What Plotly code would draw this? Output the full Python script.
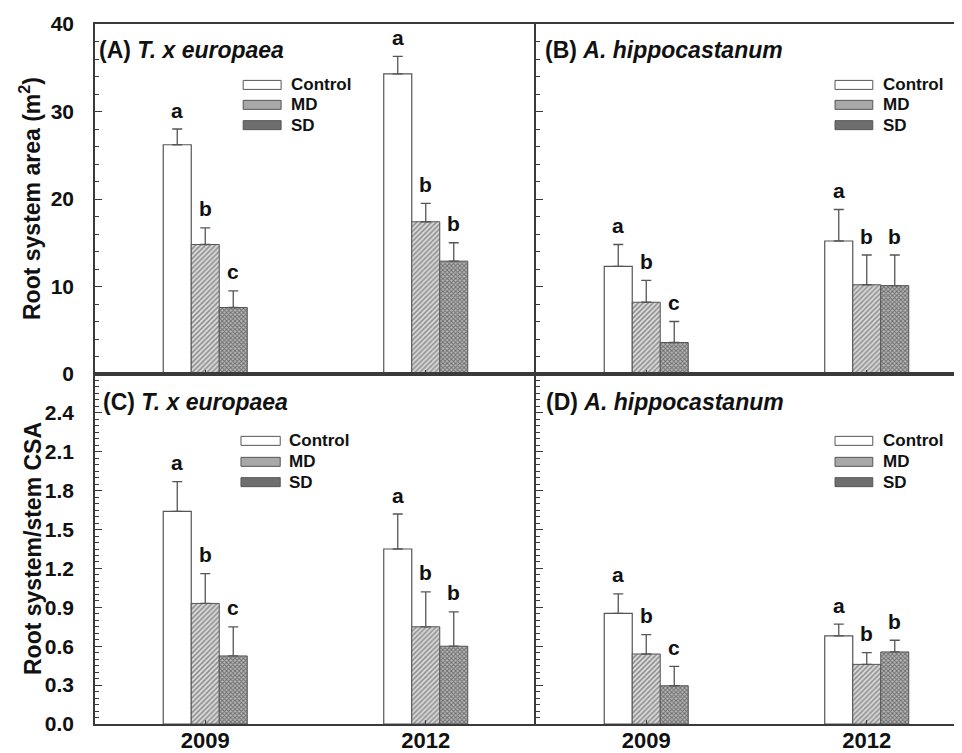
import plotly.graph_objects as go

# ---------------- data ----------------
years = ["2009", "2012"]
treatments = ["Control", "MD", "SD"]

# (A) T. x europaea - root system area (m2)
A_control = [26.2, 34.3]
A_md = [14.8, 17.4]
A_sd = [7.6, 12.9]
A_control_err = [1.8, 2.0]
A_md_err = [1.9, 2.1]
A_sd_err = [1.9, 2.1]
A_letters = [["a", "a"], ["b", "b"], ["c", "b"]]

# (B) A. hippocastanum - root system area (m2)
B_control = [12.3, 15.2]
B_md = [8.2, 10.2]
B_sd = [3.6, 10.1]
B_control_err = [2.5, 3.6]
B_md_err = [2.5, 3.4]
B_sd_err = [2.4, 3.5]
B_letters = [["a", "a"], ["b", "b"], ["c", "b"]]

# (C) T. x europaea - root system / stem CSA
C_control = [1.64, 1.35]
C_md = [0.93, 0.75]
C_sd = [0.525, 0.60]
C_control_err = [0.23, 0.27]
C_md_err = [0.23, 0.27]
C_sd_err = [0.225, 0.265]
C_letters = [["a", "a"], ["b", "b"], ["c", "b"]]

# (D) A. hippocastanum - root system / stem CSA
D_control = [0.854, 0.68]
D_md = [0.54, 0.46]
D_sd = [0.295, 0.556]
D_control_err = [0.15, 0.09]
D_md_err = [0.15, 0.09]
D_sd_err = [0.15, 0.09]
D_letters = [["a", "a"], ["b", "b"], ["c", "b"]]

panel_titles = ["(A) <i>T. x europaea</i>", "(B) <i>A. hippocastanum</i>",
                "(C) <i>T. x europaea</i>", "(D) <i>A. hippocastanum</i>"]
ytitle_top = "Root system area (m<sup>2</sup>)"
ytitle_bottom = "Root system/stem CSA"

# ---------------- layout constants ----------------
W, H = 962, 753
ML, MR, MT, MB = 87, 0, 16, 37
PW = W - ML - MR
PH = H - MT - MB
LEFT_PX = 441
XSPLIT = LEFT_PX / PW
RIGHT_PX = PW - LEFT_PX
BAR_W = 0.127
FONT = "Liberation Sans, Arial, sans-serif"
AXC = "#3a3a3a"
EDGE = "#555555"

styles = {
    "Control": dict(color="white", line=dict(color=EDGE, width=1.2)),
    "MD": dict(color="#dcdcdc", line=dict(color=EDGE, width=1),
               pattern=dict(shape="/", fgcolor="#3a3a3a", bgcolor="#dcdcdc", size=3.5, solidity=0.45)),
    "SD": dict(color="#b4b4b4", line=dict(color=EDGE, width=1),
               pattern=dict(shape="x", fgcolor="#222222", bgcolor="#b8b8b8", size=3, solidity=0.55)),
}
swatch_fill = {"Control": "white", "MD": "#a8a8a8", "SD": "#6e6e6e"}

panels = [
    ("x", "y", [A_control, A_md, A_sd], [A_control_err, A_md_err, A_sd_err], A_letters),
    ("x2", "y2", [B_control, B_md, B_sd], [B_control_err, B_md_err, B_sd_err], B_letters),
    ("x3", "y3", [C_control, C_md, C_sd], [C_control_err, C_md_err, C_sd_err], C_letters),
    ("x4", "y4", [D_control, D_md, D_sd], [D_control_err, D_md_err, D_sd_err], D_letters),
]

fig = go.Figure()
annotations = []
shapes = []
offsets = [-BAR_W, 0.0, BAR_W]
xpos = list(range(len(years)))

for xa, ya, means, errs, letters in panels:
    for k, tr in enumerate(treatments):
        xs = [i + offsets[k] for i in xpos]
        fig.add_trace(go.Bar(
            x=xs, y=means[k], width=BAR_W, name=tr, showlegend=False,
            marker=styles[tr],
            error_y=dict(type="data", array=errs[k], arrayminus=[0] * len(xs),
                         symmetric=False, color=EDGE, thickness=1.3, width=5),
            xaxis=xa, yaxis=ya,
        ))
        for i, x in enumerate(xs):
            annotations.append(dict(
                x=x, y=means[k][i] + errs[k][i], xref=xa, yref=ya, text="<b>%s</b>" % letters[k][i],
                showarrow=False, yanchor="middle", yshift=19,
                font=dict(family=FONT, size=21, color="#111")))

# ---------------- axes ----------------
def xax(domain, rng, labels):
    return dict(domain=domain, range=rng, tickvals=xpos, ticktext=years,
                showticklabels=labels, ticks="inside", ticklen=4, tickcolor=AXC,
                showline=True, linecolor=AXC, linewidth=1.6, mirror=True,
                showgrid=False, zeroline=False, fixedrange=True, ticklabelstandoff=-4,
                tickfont=dict(family=FONT, size=22, color="#111", weight="bold"))

def yax(domain, rng, tickvals, minor, fmt, labels, anchor):
    return dict(domain=domain, range=rng, tickvals=tickvals, tickformat=fmt,
                showticklabels=labels, ticks="inside", ticklen=7, tickcolor=AXC,
                minor=dict(dtick=minor, tick0=0, ticks="inside", ticklen=4, tickcolor=AXC),
                showline=True, linecolor=AXC, linewidth=1.6, anchor=anchor,
                showgrid=False, zeroline=False, fixedrange=True, ticklabelstandoff=15,
                tickfont=dict(family=FONT, size=21, color="#111", weight="bold"))

top_ticks = [0, 10, 20, 30, 40]
bottom_ticks = [0, 0.3, 0.6, 0.9, 1.2, 1.5, 1.8, 2.1, 2.4]
right_rng = [-0.5, -0.5 + 2 * RIGHT_PX / LEFT_PX]
fig.update_layout(
    xaxis=xax([0, XSPLIT], [-0.5, 1.5], False) | dict(anchor="y"),
    xaxis2=xax([XSPLIT, 1], right_rng, False) | dict(anchor="y2"),
    xaxis3=xax([0, XSPLIT], [-0.5, 1.5], True) | dict(anchor="y3"),
    xaxis4=xax([XSPLIT, 1], right_rng, True) | dict(anchor="y4"),
    yaxis=yax([0.5, 1], [0, 40], top_ticks, 2, "d", True, "x"),
    yaxis2=yax([0.5, 1], [0, 40], top_ticks, 2, "d", False, "x2"),
    yaxis3=yax([0, 0.5], [0, 2.7], bottom_ticks, 0.05, ".1f", True, "x3"),
    yaxis4=yax([0, 0.5], [0, 2.7], bottom_ticks, 0.05, ".1f", False, "x4"),
)

# ---------------- panel labels ----------------
label_pos = [("x domain", "y domain", 0.005, 0.926),
             ("x2 domain", "y2 domain", 0.016, 0.926),
             ("x3 domain", "y3 domain", 0.014, 0.92),
             ("x4 domain", "y4 domain", 0.018, 0.92)]
for (xr, yr, x, y), t in zip(label_pos, panel_titles):
    annotations.append(dict(x=x, y=y, xref=xr, yref=yr, text="<b>%s</b>" % t, showarrow=False,
                            xanchor="left", yanchor="middle",
                            font=dict(family=FONT, size=23, color="#111")))

# ---------------- in-panel legends ----------------
legend_pos = [
    ("x domain", "y domain", 0.336, 0.422, 0.440, [0.826, 0.769, 0.711]),
    ("x2 domain", "y2 domain", 0.689, 0.776, 0.796, [0.826, 0.769, 0.711]),
    ("x3 domain", "y3 domain", 0.331, 0.420, 0.436, [0.809, 0.749, 0.691]),
    ("x4 domain", "y4 domain", 0.689, 0.776, 0.796, [0.809, 0.749, 0.691]),
]
hh = 4.5 / (PH / 2)
for xr, yr, x0, x1, xt, ys in legend_pos:
    for tr, yc in zip(treatments, ys):
        shapes.append(dict(type="rect", xref=xr, yref=yr, x0=x0, x1=x1, y0=yc - hh, y1=yc + hh,
                           fillcolor=swatch_fill[tr], line=dict(color=EDGE, width=1)))
        annotations.append(dict(x=xt, y=yc, xref=xr, yref=yr, text="<b>%s</b>" % tr,
                                showarrow=False, xanchor="left", yanchor="middle",
                                font=dict(family=FONT, size=17, color="#111")))

# ---------------- y titles ----------------
annotations.append(dict(x=-(ML - 22) / PW, y=0.75, xref="paper", yref="paper",
                        text="<b>%s</b>" % ytitle_top,
                        textangle=-90, showarrow=False, xanchor="center", yanchor="middle",
                        font=dict(family=FONT, size=23, color="#111")))
annotations.append(dict(x=-(ML - 25) / PW, y=0.25, xref="paper", yref="paper",
                        text="<b>%s</b>" % ytitle_bottom,
                        textangle=-90, showarrow=False, xanchor="center", yanchor="middle",
                        font=dict(family=FONT, size=23, color="#111")))

fig.update_layout(
    width=W, height=H, margin=dict(l=ML, r=MR, t=MT, b=MB, pad=0),
    paper_bgcolor="white", plot_bgcolor="white", barmode="overlay",
    annotations=annotations, shapes=shapes, showlegend=False,
    font=dict(family=FONT, color="#111"),
)

fig.write_html("out.html", config={"displayModeBar": False})
